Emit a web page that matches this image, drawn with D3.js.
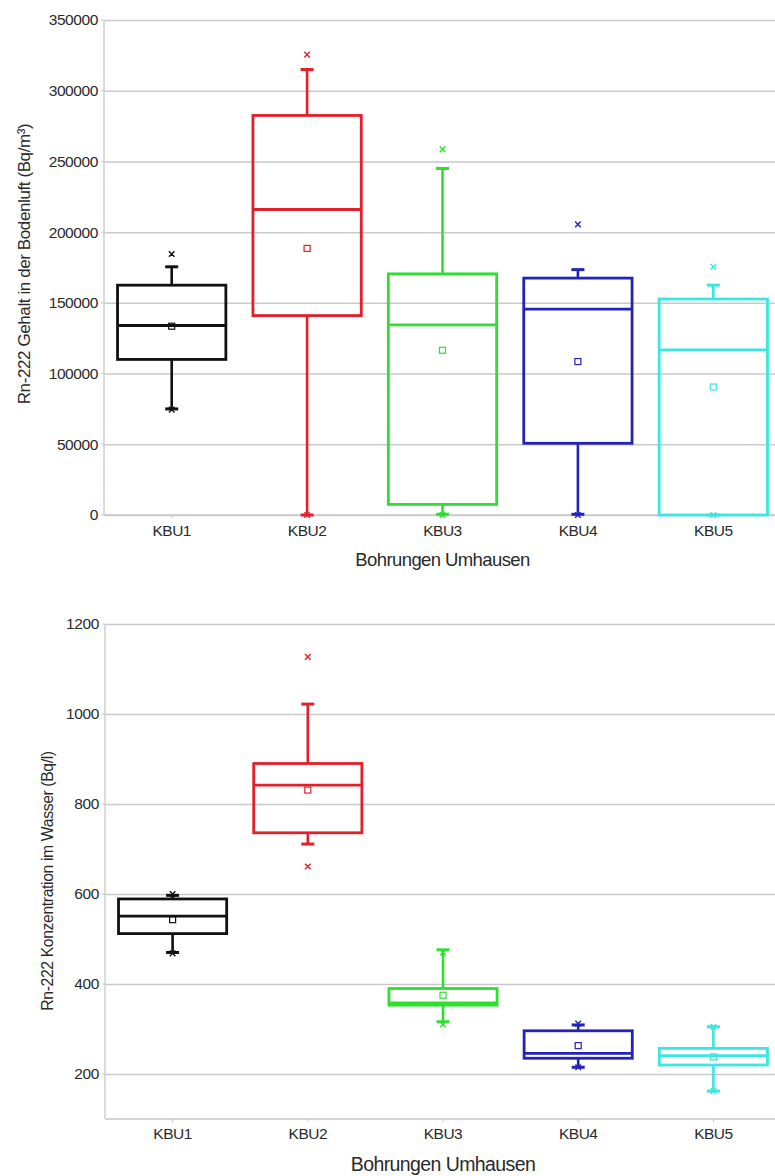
<!DOCTYPE html>
<html>
<head>
<meta charset="utf-8">
<script src="https://cdn.jsdelivr.net/npm/d3@7"></script>
<style>
  html, body { margin: 0; padding: 0; background: #fff; }
  svg { display: block; }
  text { font-family: "Liberation Sans", Arial, sans-serif; fill: #2a2a2a; }
</style>
</head>
<body>
<svg id="chart" width="775" height="1176"></svg>
<script>
// ---------- data ----------
const categories = ["KBU1", "KBU2", "KBU3", "KBU4", "KBU5"];
const seriesColors = ["#111111", "#e0202a", "#2ee02e", "#2323b8", "#3ae6e0"];

// Soil air (Bq/m³)
const soilTicks = [0, 50000, 100000, 150000, 200000, 250000, 300000, 350000];
const soilWhiskerLow  = [75000, 0, 500, 500, 0];
const soilQ1          = [110000, 141000, 7500, 50700, 0];
const soilMedian      = [134000, 216000, 134500, 145500, 116700];
const soilQ3          = [162500, 282500, 170500, 167500, 152700];
const soilWhiskerHigh = [175500, 315000, 245000, 173500, 162500];
const soilMean        = [133500, 188500, 116500, 108500, 90500];
const soilExtremeHigh = [184500, 325500, 258500, 205500, 175500];
const soilExtremeLow  = [74500, 0, 0, 0, 0];

// Water (Bq/l)
const waterTicks = [200, 400, 600, 800, 1000, 1200];
const waterWhiskerLow  = [470, 711, 316, 215, 162];
const waterQ1          = [512, 736, 353, 235, 220];
const waterMedian      = [551, 842, 358, 246, 241];
const waterQ3          = [589, 890, 390, 296, 257];
const waterWhiskerHigh = [597, 1022, 476, 309, 305];
const waterMean        = [543, 831, 375, 263, 238];
const waterExtremeHigh = [600, 1127, 470, 312, 305];
const waterExtremeLow  = [468, 661, 310, 215, 162];

const svg = d3.select("#chart");

function buildRows(low, q1, med, q3, high, mean, exHi, exLo) {
  return categories.map((c, i) => ({
    cat: c, color: seriesColors[i],
    low: low[i], q1: q1[i], med: med[i], q3: q3[i], high: high[i],
    mean: mean[i], exHi: exHi[i], exLo: exLo[i]
  }));
}

function drawPanel(opts) {
  const { rows, yDomain, yRange, ticks, xRange, yTitle, yTitleX, yTitleY, yTitleSize,
          xTitle, xTitleY, xTitleSize, xLabelOffset, bottomValue } = opts;
  const g = svg.append("g");
  const x = d3.scaleBand().domain(categories).range(xRange).paddingInner(0.2).paddingOuter(0.1);
  const y = d3.scaleLinear().domain(yDomain).range(yRange);
  const plotW = xRange[1] - xRange[0];

  // grid + y labels
  const yAxis = d3.axisLeft(y).tickValues(ticks).tickSize(-plotW).tickPadding(6).tickFormat(d3.format("d"));
  const ya = g.append("g").attr("transform", `translate(${xRange[0]},0)`).call(yAxis);
  ya.select(".domain").remove();
  ya.selectAll(".tick line").attr("stroke", "#c9c9c9").attr("stroke-width", 1.5);
  ya.selectAll(".tick text").attr("font-size", 15.5).attr("fill", "#2a2a2a")
    .style("font-family", "'Liberation Sans', Arial, sans-serif").attr("letter-spacing", -0.4);
  // small outer ticks
  g.append("g").selectAll("line").data(ticks).join("line")
    .attr("x1", xRange[0] - 3).attr("x2", xRange[0])
    .attr("y1", d => y(d)).attr("y2", d => y(d))
    .attr("stroke", "#c9c9c9").attr("stroke-width", 1);

  // left axis line and bottom line
  g.append("line").attr("x1", xRange[0]).attr("x2", xRange[0])
    .attr("y1", y(yDomain[0])).attr("y2", y(yDomain[1]))
    .attr("stroke", "#cfcfcf").attr("stroke-width", 1.5);
  g.append("line").attr("x1", xRange[0]).attr("x2", xRange[1])
    .attr("y1", y(bottomValue)).attr("y2", y(bottomValue))
    .attr("stroke", "#c9c9c9").attr("stroke-width", 1.5);

  // x axis labels
  const xAxis = d3.axisBottom(x).tickSize(3).tickPadding(xLabelOffset);
  const xa = g.append("g").attr("transform", `translate(0,${y(bottomValue)})`).call(xAxis);
  xa.select(".domain").remove();
  xa.selectAll(".tick line").attr("stroke", "#c9c9c9");
  xa.selectAll(".tick text").attr("font-size", 15.5).attr("fill", "#2a2a2a")
    .style("font-family", "'Liberation Sans', Arial, sans-serif").attr("letter-spacing", -0.5);

  // boxes
  const bw = x.bandwidth();
  const capW = 13;
  const boxes = g.append("g").selectAll("g").data(rows).join("g")
    .attr("transform", d => `translate(${x(d.cat) + bw / 2},0)`);
  // whiskers
  boxes.append("line").attr("x1", 0).attr("x2", 0)
    .attr("y1", d => y(d.q3)).attr("y2", d => y(d.high))
    .attr("stroke", d => d.color).attr("stroke-width", 2.6);
  boxes.append("line").attr("x1", 0).attr("x2", 0)
    .attr("y1", d => y(d.q1)).attr("y2", d => y(d.low))
    .attr("stroke", d => d.color).attr("stroke-width", 2.6);
  // caps
  boxes.append("line").attr("x1", -capW / 2).attr("x2", capW / 2)
    .attr("y1", d => y(d.high)).attr("y2", d => y(d.high))
    .attr("stroke", d => d.color).attr("stroke-width", 3);
  boxes.append("line").attr("x1", -capW / 2).attr("x2", capW / 2)
    .attr("y1", d => y(d.low)).attr("y2", d => y(d.low))
    .attr("stroke", d => d.color).attr("stroke-width", 3);
  // box
  boxes.append("rect").attr("x", -bw / 2).attr("width", bw)
    .attr("y", d => y(d.q3)).attr("height", d => Math.max(0, y(d.q1) - y(d.q3)))
    .attr("fill", "none").attr("stroke", d => d.color).attr("stroke-width", 2.8);
  // median
  boxes.append("line").attr("x1", -bw / 2).attr("x2", bw / 2)
    .attr("y1", d => y(d.med)).attr("y2", d => y(d.med))
    .attr("stroke", d => d.color).attr("stroke-width", 2.8);
  // mean square
  boxes.append("rect").attr("x", -3).attr("width", 6).attr("height", 6)
    .attr("y", d => y(d.mean) - 3)
    .attr("fill", "none").attr("stroke", d => d.color).attr("stroke-width", 1.2);
  // extreme x markers
  const xMark = (sel, key) => sel.append("path")
    .attr("d", d => { const cy = y(d[key]); return `M-2.8,${cy - 2.8}L2.8,${cy + 2.8}M-2.8,${cy + 2.8}L2.8,${cy - 2.8}`; })
    .attr("stroke", d => d.color).attr("stroke-width", 1.4).attr("fill", "none");
  xMark(boxes, "exHi");
  xMark(boxes, "exLo");

  // titles
  g.append("text").attr("transform", `translate(${yTitleX},${yTitleY}) rotate(-90)`)
    .attr("text-anchor", "middle").attr("font-size", yTitleSize).attr("letter-spacing", -0.4)
    .text(yTitle);
  g.append("text").attr("x", (xRange[0] + xRange[1]) / 2).attr("y", xTitleY)
    .attr("text-anchor", "middle").attr("font-size", xTitleSize).attr("letter-spacing", -0.6)
    .text(xTitle);
}

drawPanel({
  rows: buildRows(soilWhiskerLow, soilQ1, soilMedian, soilQ3, soilWhiskerHigh, soilMean, soilExtremeHigh, soilExtremeLow),
  yDomain: [0, 350000], yRange: [515, 20], ticks: soilTicks, xRange: [104, 781],
  yTitle: "Rn-222 Gehalt in der Bodenluft (Bq/m³)", yTitleX: 30, yTitleY: 264, yTitleSize: 17,
  xTitle: "Bohrungen Umhausen", xTitleY: 566, xTitleSize: 18.5, xLabelOffset: 7, bottomValue: 0
});

drawPanel({
  rows: buildRows(waterWhiskerLow, waterQ1, waterMedian, waterQ3, waterWhiskerHigh, waterMean, waterExtremeHigh, waterExtremeLow),
  yDomain: [100, 1200], yRange: [1119, 624], ticks: waterTicks, xRange: [105, 781],
  yTitle: "Rn-222 Konzentration im Wasser (Bq/l)", yTitleX: 52.5, yTitleY: 881, yTitleSize: 15.8,
  xTitle: "Bohrungen Umhausen", xTitleY: 1171, xTitleSize: 19.5, xLabelOffset: 6, bottomValue: 100
});
</script>
</body>
</html>
